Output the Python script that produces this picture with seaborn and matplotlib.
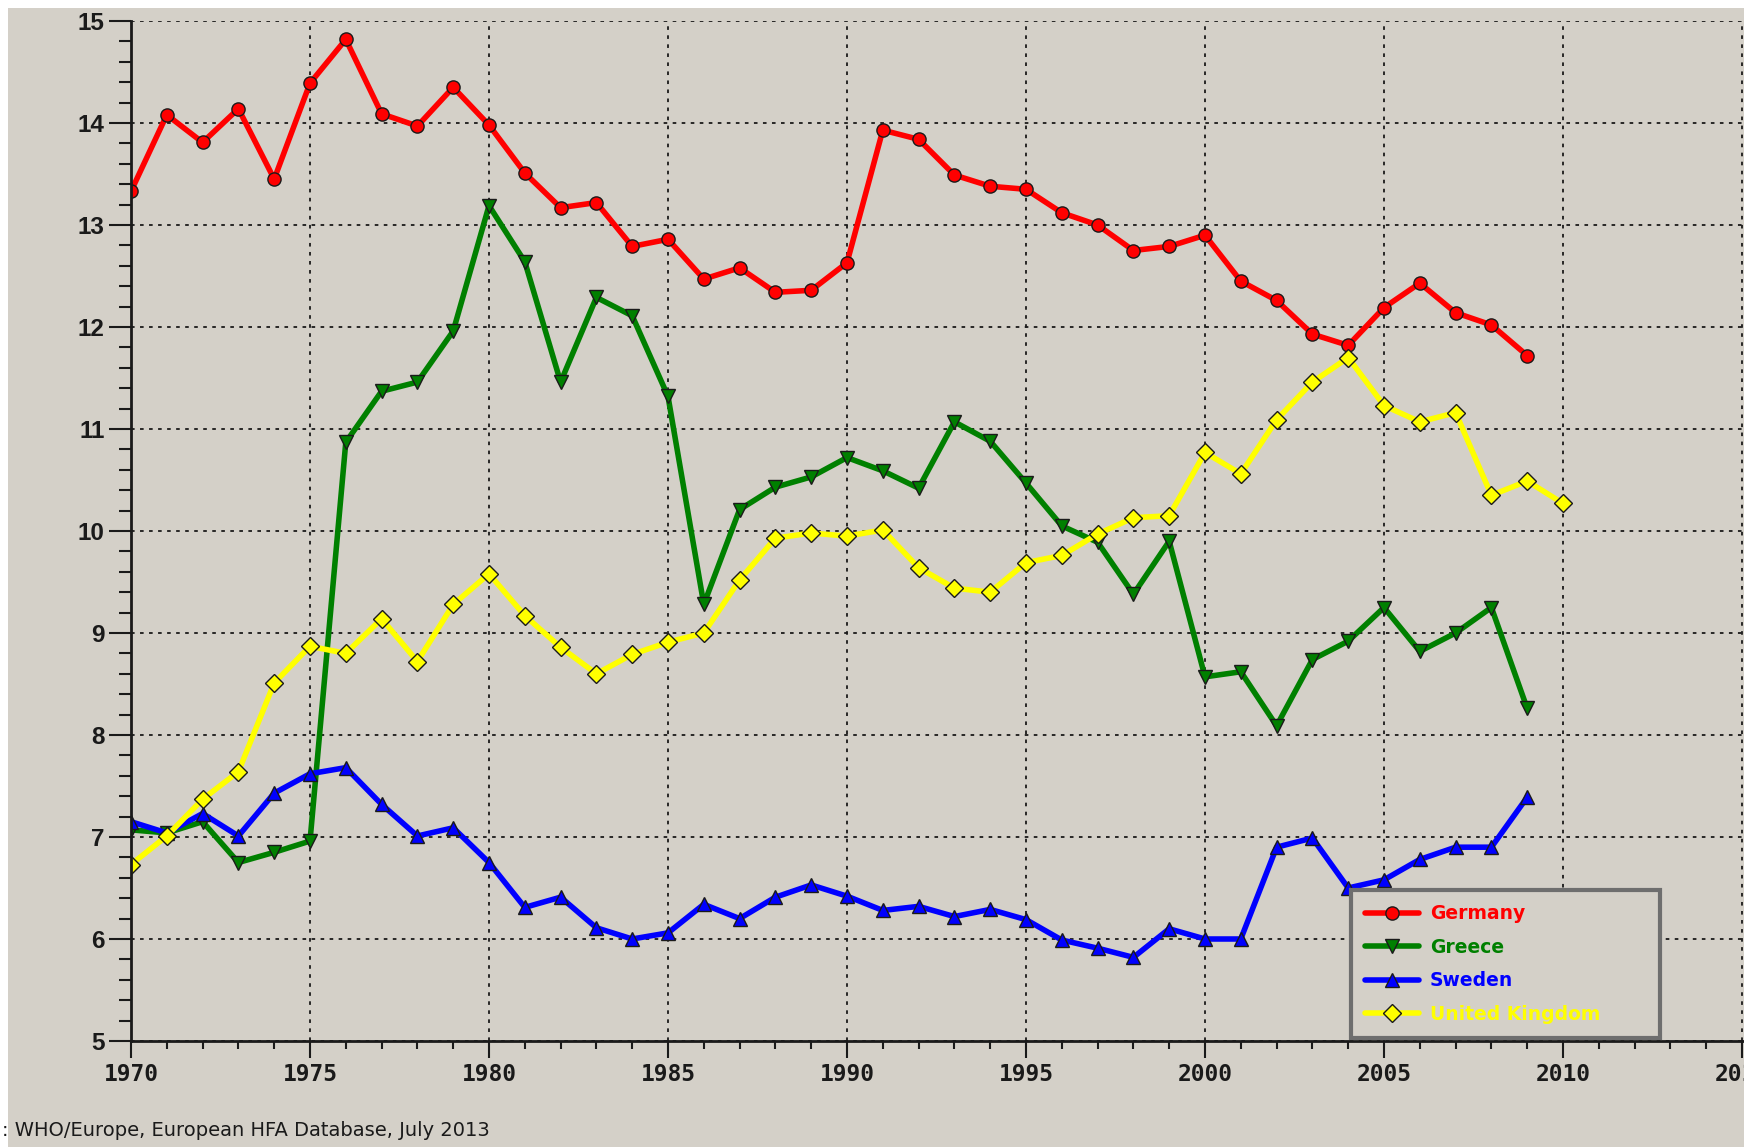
# Line chart of the HFA indicator for four countries, 1970-2010.

import seaborn as sns
import pandas as pd
import matplotlib.pyplot as plt
from matplotlib.patches import Rectangle
from matplotlib.ticker import MultipleLocator

# Values (one per year, starting in 1970).
germany = [13.33, 14.08, 13.81, 14.14, 13.45, 14.39, 14.82, 14.09, 13.97, 14.35,
           13.98, 13.51, 13.17, 13.22, 12.79, 12.86, 12.47, 12.58, 12.34, 12.36,
           12.63, 13.93, 13.84, 13.49, 13.38, 13.35, 13.12, 13.00, 12.75, 12.79,
           12.90, 12.45, 12.26, 11.93, 11.82, 12.19, 12.43, 12.14, 12.02, 11.72]
greece = [7.07, 7.04, 7.15, 6.75, 6.85, 6.96, 10.87, 11.37, 11.46, 11.96,
          13.19, 12.64, 11.46, 12.29, 12.11, 11.32, 9.28, 10.21, 10.43, 10.53,
          10.72, 10.59, 10.42, 11.07, 10.88, 10.47, 10.05, 9.89, 9.38, 9.90,
          8.57, 8.62, 8.09, 8.74, 8.92, 9.25, 8.82, 9.00, 9.25, 8.26]
sweden = [7.15, 7.04, 7.23, 7.01, 7.43, 7.62, 7.68, 7.32, 7.01, 7.09,
          6.75, 6.31, 6.41, 6.11, 6.00, 6.06, 6.34, 6.20, 6.41, 6.53,
          6.42, 6.28, 6.32, 6.22, 6.29, 6.19, 5.99, 5.91, 5.82, 6.10,
          6.00, 6.00, 6.90, 6.99, 6.50, 6.58, 6.78, 6.90, 6.90, 7.39]
united_kingdom = [6.73, 7.01, 7.37, 7.64, 8.51, 8.87, 8.80, 9.14, 8.72, 9.28,
                  9.58, 9.17, 8.86, 8.60, 8.79, 8.91, 9.00, 9.52, 9.93, 9.98,
                  9.95, 10.01, 9.64, 9.44, 9.40, 9.69, 9.76, 9.97, 10.13, 10.15,
                  10.77, 10.56, 11.09, 11.46, 11.70, 11.23, 11.07, 11.16, 10.35, 10.49,
                  10.27]

first_year = 1970
countries = ["Germany", "Greece", "Sweden", "United Kingdom"]
series = [germany, greece, sweden, united_kingdom]

x_ticks = list(range(1970, 2020, 5))
y_ticks = list(range(5, 16))

source_text = ": WHO/Europe, European HFA Database, July 2013"

# Colours and markers per country.
colors = {
    "Germany": "#ff0000",
    "Greece": "#008000",
    "Sweden": "#0000ff",
    "United Kingdom": "#ffff00"
}
markers = {
    "Germany": "o",
    "Greece": "v",
    "Sweden": "^",
    "United Kingdom": "D"
}

# Windows-style grey background.
bg = "#d4d0c8"

rows = []
for name, values in zip(countries, series):
    for i, v in enumerate(values):
        rows.append({"year": first_year + i, "value": v, "country": name})
df = pd.DataFrame(rows)

sns.set_theme(style="white")
plt.rcParams["font.family"] = ["DejaVu Sans"]

W, H = 1744, 1147
fig = plt.figure(figsize=(W / 100, H / 100), dpi=100)
fig.patch.set_facecolor("white")
fig.add_artist(Rectangle((8 / W, 0), 1, (H - 8) / H, transform=fig.transFigure,
                         facecolor=bg, edgecolor="none", zorder=0))

# The axes run past the right edge of the picture, like the cropped original.
ax = fig.add_axes([131 / W, 106 / H, 1790 / W, 1020 / H])
ax.set_facecolor(bg)

sns.lineplot(data=df, x="year", y="value", hue="country", style="country",
             palette=colors, markers=markers, dashes=False, linewidth=4,
             markersize=9.5, markeredgecolor="k", markeredgewidth=1, ax=ax)

ax.set_xlim(1970, 2020)
ax.set_ylim(5, 15)
ax.set_xlabel("")
ax.set_ylabel("")

ax.set_xticks(x_ticks, labels=[str(t) for t in x_ticks], fontfamily="DejaVu Sans Mono",
              fontweight="bold", fontsize=16.5, color="#1a1a1a")
ax.set_yticks(y_ticks, labels=[str(t) for t in y_ticks], fontfamily="Liberation Sans",
              fontweight="bold", fontsize=17.5, color="#1a1a1a")
ax.xaxis.set_minor_locator(MultipleLocator(1))
ax.yaxis.set_minor_locator(MultipleLocator(0.2))

ax.tick_params(axis="both", which="both", direction="out", width=1.5, color="#1a1a1a",
               bottom=True, left=True)
ax.tick_params(axis="y", which="major", length=16, pad=3)
ax.tick_params(axis="y", which="minor", length=9)
ax.tick_params(axis="x", which="major", length=12, pad=4)
ax.tick_params(axis="x", which="minor", length=5.5)

ax.grid(True, which="major", color="k", linestyle=(0, (2, 3)), linewidth=1.3)
ax.set_axisbelow(True)

for s in ["top", "right"]:
    ax.spines[s].set_visible(False)
for s in ["left", "bottom"]:
    ax.spines[s].set_linewidth(2)
    ax.spines[s].set_color("#1a1a1a")

# Rebuild the legend with coloured bold labels.
handles, labels = ax.get_legend_handles_labels()
pairs = [(h, l) for h, l in zip(handles, labels) if l in countries]
ax.get_legend().remove()
leg = ax.legend([p[0] for p in pairs], [p[1] for p in pairs], loc="lower left",
                bbox_to_anchor=(1351 / W, 109 / H, 309 / W, 0), bbox_transform=fig.transFigure,
                mode="expand", borderaxespad=0, prop={"weight": "bold", "size": 13.5},
                frameon=True, fancybox=False, facecolor=bg, edgecolor="#6e6e6e",
                framealpha=1, handlelength=2.9, handletextpad=0.55, borderpad=0.75,
                labelspacing=0.78)
leg.get_frame().set_linewidth(3)
for text in leg.get_texts():
    text.set_color(colors[text.get_text()])

fig.text(2 / W, 17 / H, source_text, fontsize=14, va="center", ha="left", color="#1a1a1a")

plt.savefig("out.png", dpi=100)
plt.close()
